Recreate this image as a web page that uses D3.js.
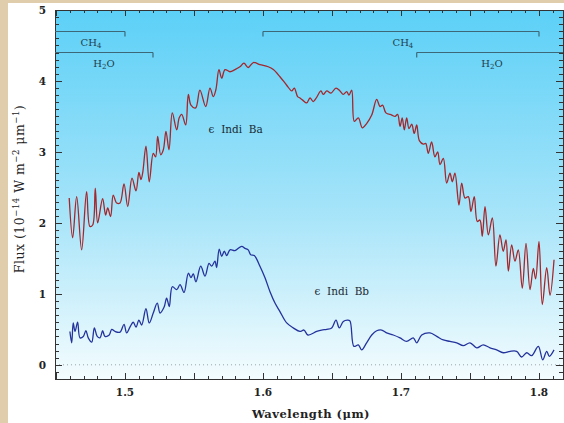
<!DOCTYPE html>
<html>
<head>
<meta charset="utf-8">
<script src="https://cdn.jsdelivr.net/npm/d3@7"></script>
<style>
  html, body { margin: 0; padding: 0; background: #dfcdab; }
  svg { display: block; }
  text { font-family: "DejaVu Serif", serif; fill: #222; }
</style>
</head>
<body>
<div id="chart"></div>
<script>
// epsilon Indi Ba spectrum (wavelength in micron, flux in 1e-14 W m-2 um-1)
const baWave = [1.4596,1.4621,1.4650,1.4686,1.4722,1.4746,1.4766,1.4785,1.4802,1.4838,1.4860,1.4875,1.4896,1.4915,1.4940,1.4964,1.4993,1.5020,1.5051,1.5080,
  1.5101,1.5116,1.5128,1.5152,1.5176,1.5205,1.5222,1.5237,1.5259,1.5278,1.5297,1.5319,1.5343,1.5375,1.5393,1.5411,1.5440,1.5459,1.5478,1.5512,
  1.5543,1.5585,1.5616,1.5640,1.5659,1.5681,1.5701,1.5725,1.5761,1.5797,1.5833,1.5862,1.5893,1.5930,1.5978,1.6038,1.6075,1.6123,1.6172,1.6208,
  1.6227,1.6251,1.6268,1.6288,1.6317,1.6341,1.6364,1.6389,1.6420,1.6437,1.6462,1.6493,1.6529,1.6558,1.6582,1.6607,1.6623,1.6643,1.6662,1.6691,
  1.6720,1.6751,1.6788,1.6824,1.6848,1.6867,1.6891,1.6933,1.6957,1.6976,1.6993,1.7009,1.7024,1.7041,1.7058,1.7078,1.7096,1.7114,1.7133,1.7162,
  1.7179,1.7198,1.7222,1.7246,1.7266,1.7283,1.7307,1.7331,1.7355,1.7372,1.7391,1.7420,1.7440,1.7464,1.7488,1.7507,1.7531,1.7553,1.7572,1.7589,
  1.7609,1.7633,1.7662,1.7688,1.7717,1.7741,1.7761,1.7778,1.7802,1.7826,1.7850,1.7879,1.7906,1.7935,1.7959,1.7976,1.8000,1.8024,1.8056,1.8080,1.8109]
const baFlux = [2.35,1.79,2.37,1.62,2.44,1.95,1.97,2.49,2.00,2.34,2.11,2.21,2.09,2.39,2.28,2.28,2.55,2.23,2.63,2.45,
  2.71,2.61,2.70,3.08,2.58,2.98,2.93,3.22,2.96,3.03,3.29,3.03,3.55,3.31,3.48,3.53,3.38,3.81,3.66,3.62,
  3.87,3.64,3.90,3.78,3.88,4.16,4.04,4.16,4.13,4.16,4.20,4.25,4.19,4.26,4.23,4.20,4.16,4.06,3.94,3.86,
  3.90,3.78,3.76,3.73,3.69,3.76,3.71,3.77,3.86,3.81,3.86,3.83,3.90,3.86,3.81,3.85,3.80,3.87,3.43,3.48,
  3.34,3.40,3.52,3.74,3.64,3.66,3.55,3.52,3.50,3.53,3.36,3.48,3.31,3.48,3.33,3.39,3.26,3.38,3.16,3.11,
  3.12,2.98,3.14,2.93,3.00,2.82,2.91,2.56,2.70,2.58,2.70,2.25,2.56,2.35,2.37,2.16,2.37,2.02,2.04,1.81,
  2.23,1.83,2.07,1.39,1.83,1.60,1.76,1.32,1.69,1.46,1.62,1.08,1.71,1.06,1.36,1.21,1.74,0.85,1.37,0.98,1.48]

// epsilon Indi Bb spectrum
const bbWave = [1.4601,1.4614,1.4625,1.4638,1.4657,1.4674,1.4698,1.4717,1.4734,1.4759,1.4778,1.4799,1.4819,1.4838,1.4855,1.4886,1.4904,1.4928,1.4964,1.4993,
  1.5012,1.5036,1.5060,1.5080,1.5101,1.5121,1.5152,1.5176,1.5205,1.5234,1.5254,1.5283,1.5302,1.5321,1.5343,1.5375,1.5399,1.5428,1.5459,1.5478,
  1.5495,1.5514,1.5549,1.5580,1.5609,1.5628,1.5652,1.5664,1.5683,1.5701,1.5720,1.5737,1.5761,1.5797,1.5846,1.5870,1.5893,1.5911,1.5937,1.5978,
  1.6014,1.6051,1.6087,1.6123,1.6172,1.6220,1.6268,1.6297,1.6326,1.6389,1.6425,1.6462,1.6498,1.6529,1.6553,1.6582,1.6611,1.6630,1.6659,1.6691,
  1.6715,1.6751,1.6788,1.6824,1.6860,1.6896,1.6944,1.6993,1.7041,1.7089,1.7114,1.7150,1.7210,1.7259,1.7307,1.7355,1.7404,1.7451,1.7500,1.7549,
  1.7596,1.7645,1.7693,1.7741,1.7790,1.7838,1.7874,1.7911,1.7947,1.7995,1.8027,1.8056,1.8075,1.8109]
const bbFlux = [0.47,0.31,0.59,0.47,0.60,0.38,0.40,0.48,0.38,0.32,0.52,0.40,0.38,0.48,0.40,0.42,0.50,0.47,0.46,0.57,
  0.45,0.53,0.60,0.53,0.63,0.56,0.79,0.59,0.73,0.87,0.73,0.81,0.94,0.82,1.10,1.06,1.13,1.02,1.29,1.23,
  1.28,1.17,1.39,1.25,1.43,1.39,1.46,1.37,1.63,1.53,1.60,1.54,1.62,1.61,1.67,1.64,1.62,1.55,1.54,1.39,
  1.23,1.03,0.87,0.75,0.59,0.52,0.47,0.49,0.42,0.47,0.49,0.50,0.52,0.63,0.52,0.61,0.63,0.62,0.26,0.28,
  0.21,0.31,0.42,0.48,0.49,0.45,0.42,0.38,0.33,0.38,0.31,0.42,0.45,0.40,0.35,0.33,0.31,0.27,0.31,0.24,
  0.28,0.24,0.21,0.17,0.19,0.19,0.11,0.17,0.13,0.26,0.07,0.19,0.12,0.21]

const xTickLabels = [1.5, 1.6, 1.7, 1.8]
const yTickLabels = [0, 1, 2, 3, 4, 5]

// absorption bands
const bandStart = [1.4493, 1.4493, 1.60, 1.7114]
const bandEnd = [1.50, 1.5203, 1.80, 1.8174]
const bandLevel = [4.70, 4.41, 4.70, 4.41]
const bandName = ['CH4', 'H2O', 'CH4', 'H2O']
const bandLabelX = [1.4754, 1.4848, 1.7014, 1.7660]

const W = 564, H = 423
const margin = { top: 10, right: 1, bottom: 44, left: 55 }

const svg = d3.select('#chart').append('svg')
  .attr('width', W)
  .attr('height', H)

// white panel over the beige frame
svg.append('rect')
  .attr('x', 8).attr('y', 3)
  .attr('width', W - 8).attr('height', H - 3)
  .attr('fill', '#ffffff')

const x = d3.scaleLinear().domain([1.4493, 1.8174]).range([margin.left, W - margin.right])
const y = d3.scaleLinear().domain([-0.2, 5]).range([H - margin.bottom, margin.top])

const defs = svg.append('defs')
const grad = defs.append('linearGradient')
  .attr('id', 'bg').attr('x1', 0).attr('y1', 0).attr('x2', 0).attr('y2', 1)
grad.append('stop').attr('offset', '0%').attr('stop-color', '#5cd0f7')
grad.append('stop').attr('offset', '55%').attr('stop-color', '#a6e4f9')
grad.append('stop').attr('offset', '100%').attr('stop-color', '#f4fcfe')

svg.append('rect')
  .attr('x', x.range()[0]).attr('y', y.range()[1])
  .attr('width', x.range()[1] - x.range()[0])
  .attr('height', y.range()[0] - y.range()[1])
  .attr('fill', 'url(#bg)')

// zero line
svg.append('line')
  .attr('x1', x.range()[0]).attr('x2', x.range()[1])
  .attr('y1', y(0)).attr('y2', y(0))
  .attr('stroke', '#9aa6aa')
  .attr('stroke-width', 1)
  .attr('stroke-dasharray', '1,3')

// ticks on all four sides, pointing inwards
const xMinor = d3.range(1.45, 1.8175, 0.01)
const yMinor = d3.range(-0.1, 5.001, 0.1)
const isMajor = (v, step) => Math.abs(v / step - Math.round(v / step)) < 1e-6

const axisG = svg.append('g').attr('stroke', '#333').attr('stroke-width', 1)
xMinor.forEach(v => {
  const len = isMajor(v, 0.05) ? 6 : 3
  const px = Math.round(x(v)) + 0.5
  axisG.append('line').attr('x1', px).attr('x2', px)
    .attr('y1', y.range()[0]).attr('y2', y.range()[0] - len)
  axisG.append('line').attr('x1', px).attr('x2', px)
    .attr('y1', y.range()[1]).attr('y2', y.range()[1] + len)
})
yMinor.forEach(v => {
  const len = isMajor(v, 1) ? 7 : 4
  const py = Math.round(y(v)) + 0.5
  axisG.append('line').attr('y1', py).attr('y2', py)
    .attr('x1', x.range()[0]).attr('x2', x.range()[0] + len)
  axisG.append('line').attr('y1', py).attr('y2', py)
    .attr('x1', x.range()[1]).attr('x2', x.range()[1] - len)
})
axisG.append('rect')
  .attr('x', x.range()[0] + 0.5).attr('y', y.range()[1] + 0.5)
  .attr('width', x.range()[1] - x.range()[0]).attr('height', y.range()[0] - y.range()[1])
  .attr('fill', 'none')

svg.selectAll('.xlab').data(xTickLabels).enter().append('text')
  .attr('x', d => x(d)).attr('y', y.range()[0] + 17)
  .attr('text-anchor', 'middle')
  .style('font-size', '10.5px').style('font-weight', 'bold')
  .text(d => d.toFixed(1))

svg.selectAll('.ylab').data(yTickLabels).enter().append('text')
  .attr('x', x.range()[0] - 9).attr('y', d => y(d) + 4)
  .attr('text-anchor', 'end')
  .style('font-size', '10.5px').style('font-weight', 'bold')
  .text(d => d)

svg.append('text')
  .attr('x', 311).attr('y', 418)
  .attr('text-anchor', 'middle')
  .style('font-size', '11.5px').style('font-weight', 'bold')
  .style('letter-spacing', '0.5px')
  .text('Wavelength (μm)')

const yl = svg.append('text')
  .attr('transform', 'translate(24,189) rotate(-90)')
  .attr('text-anchor', 'middle')
  .style('font-size', '12.5px')
  .style('letter-spacing', '0.5px')
yl.append('tspan').text('Flux  (10')
yl.append('tspan').attr('dy', -5).style('font-size', '8.5px').text('−14')
yl.append('tspan').attr('dy', 5).text('  W  m')
yl.append('tspan').attr('dy', -5).style('font-size', '8.5px').text('−2')
yl.append('tspan').attr('dy', 5).text('  μm')
yl.append('tspan').attr('dy', -5).style('font-size', '8.5px').text('−1')
yl.append('tspan').attr('dy', 5).text(')')

// absorption band brackets
const bandG = svg.append('g')
bandName.forEach((name, i) => {
  const yy = Math.round(y(bandLevel[i])) + 0.5
  const x0 = x(bandStart[i]), x1 = x(bandEnd[i])
  bandG.append('line').attr('x1', x0).attr('x2', x1).attr('y1', yy).attr('y2', yy)
    .attr('stroke', '#3c6878').attr('stroke-width', 1.2)
  if (bandStart[i] > x.domain()[0] + 0.001) {
    bandG.append('line').attr('x1', x0).attr('x2', x0).attr('y1', yy).attr('y2', yy + 5)
      .attr('stroke', '#3c6878').attr('stroke-width', 1.2)
  }
  if (bandEnd[i] < x.domain()[1] - 0.001) {
    bandG.append('line').attr('x1', x1).attr('x2', x1).attr('y1', yy).attr('y2', yy + 5)
      .attr('stroke', '#3c6878').attr('stroke-width', 1.2)
  }
  const isCH4 = name === 'CH4'
  const t = bandG.append('text')
    .attr('x', x(bandLabelX[i])).attr('y', yy + 14)
    .attr('text-anchor', 'middle')
    .style('font-size', '10px')
    .style('fill', '#1f3f4e')
  t.append('tspan').text(isCH4 ? 'CH' : 'H')
  t.append('tspan').attr('dy', 2).style('font-size', '7px').text(isCH4 ? '4' : '2')
  t.append('tspan').attr('dy', -2).text(isCH4 ? '' : 'O')
})

const line = d3.line()
  .x(d => x(d[0]))
  .y(d => y(d[1]))
  .curve(d3.curveCatmullRom.alpha(0.5))

svg.append('path')
  .datum(d3.zip(baWave, baFlux))
  .attr('d', line)
  .attr('fill', 'none')
  .attr('stroke', '#a3272c')
  .attr('stroke-width', 1.3)

svg.append('path')
  .datum(d3.zip(bbWave, bbFlux))
  .attr('d', line)
  .attr('fill', 'none')
  .attr('stroke', '#24339c')
  .attr('stroke-width', 1.3)

svg.append('text')
  .attr('x', x(1.5606)).attr('y', y(3.26))
  .style('font-size', '10.5px').style('fill', '#1a2a33')
  .attr('xml:space', 'preserve')
  .text('ϵ  Indi  Ba')

svg.append('text')
  .attr('x', x(1.6373)).attr('y', y(0.99))
  .style('font-size', '10.5px').style('fill', '#1a2a33')
  .attr('xml:space', 'preserve')
  .text('ϵ  Indi  Bb')
</script>
</body>
</html>
